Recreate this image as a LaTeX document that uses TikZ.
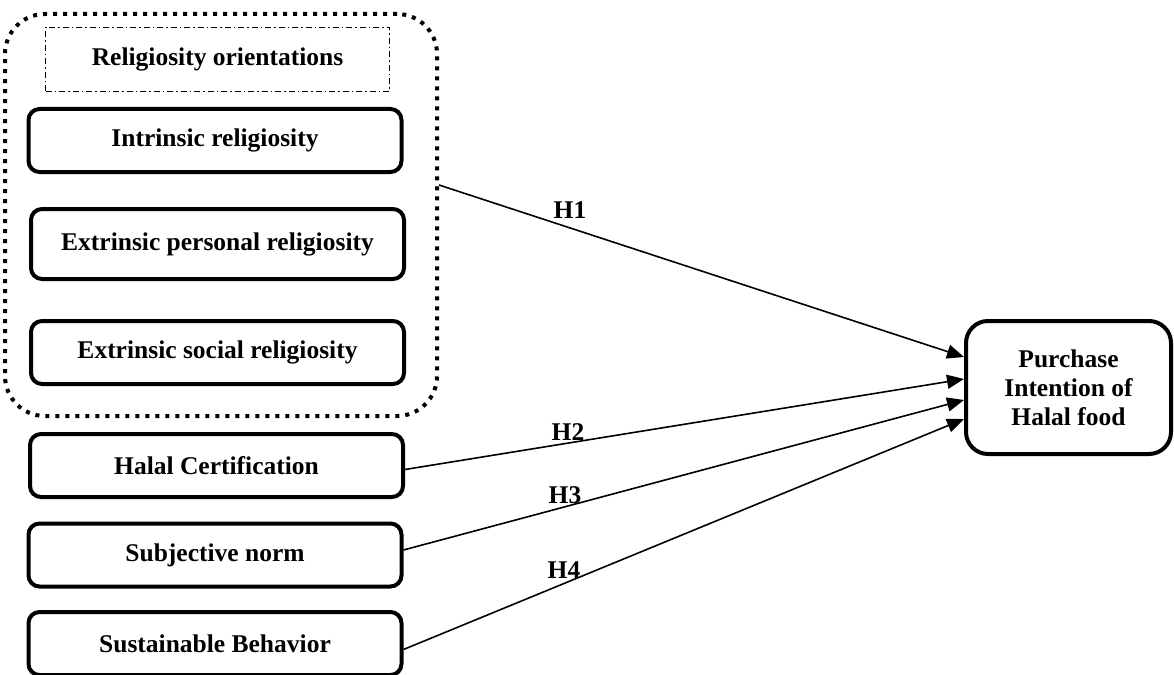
\documentclass[tikz,border=0pt]{standalone}
\usepackage{fontspec}
\setmainfont{Liberation Serif}
\usetikzlibrary{arrows.meta}
\begin{document}
\begin{tikzpicture}[x=1pt,y=-1pt,
  txt/.style={font=\bfseries\fontsize{25.5}{29}\selectfont},
  varbox/.style={txt,draw,line width=4pt,rounded corners=11pt,inner sep=0pt,minimum width=373pt,minimum height=63pt,align=center},
  grpbox/.style={draw,line width=4pt,dash pattern=on 4pt off 6pt,rounded corners=40pt,inner sep=0pt},
  hdrbox/.style={txt,draw,line width=0.9pt,dash pattern=on 6pt off 3pt on 1.5pt off 3pt,inner sep=0pt,minimum width=344pt,minimum height=64pt},
  outbox/.style={txt,draw,line width=4pt,rounded corners=22pt,inner sep=0pt,minimum width=205pt,minimum height=133pt,align=center},
  link/.style={line width=1.6pt,-{Triangle[length=17pt,width=14pt]}},
  hlab/.style={txt,inner sep=0pt}]
\useasboundingbox (0,0) rectangle (1174,674);
\node[grpbox,minimum width=432pt,minimum height=402pt] (grp) at (221,215) {};
\node[hdrbox] (ro) at (217.5,59.5) {Religiosity orientations};
\node[varbox] (intr) at (215,140.5) {Intrinsic religiosity};
\node[varbox,minimum height=70pt] (extp) at (217.5,244) {Extrinsic personal religiosity};
\node[varbox] (exts) at (217.5,352.5) {Extrinsic social religiosity};
\node[varbox] (halal) at (216.5,465.5) {Halal Certification};
\node[varbox] (subj) at (215,555) {Subjective norm};
\node[varbox] (sust) at (215,643.5) {Sustainable Behavior};
\node[outbox] (pi) at (1068.5,387.5) {Purchase\\Intention of\\Halal food};
\draw[link] ([yshift=30pt]grp.east) -- ([yshift=30.5pt]pi.west);
\draw[link] ([yshift=-4pt]halal.east) -- ([yshift=8.5pt]pi.west);
\draw[link] ([yshift=5pt]subj.east) -- ([yshift=-12.5pt]pi.west);
\draw[link] ([yshift=-6pt]sust.east) -- ([yshift=-31.5pt]pi.west);
\node[hlab] (h1) at (570,210) {H1};
\node[hlab] (h2) at (568,432) {H2};
\node[hlab] (h3) at (565,495) {H3};
\node[hlab] (h4) at (564,570) {H4};
\end{tikzpicture}
\end{document}
